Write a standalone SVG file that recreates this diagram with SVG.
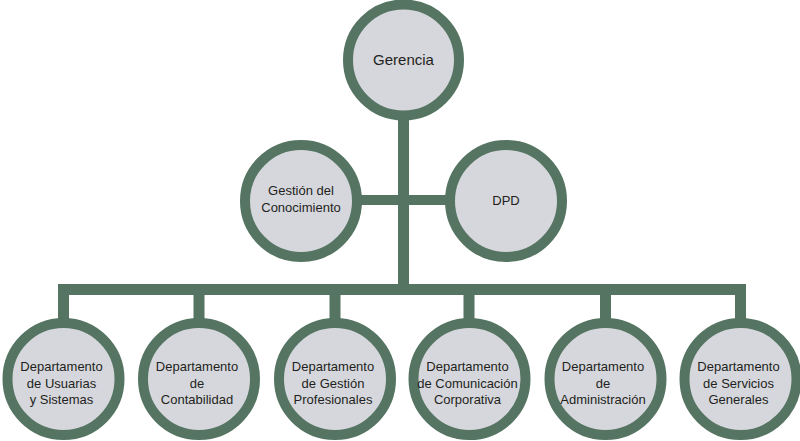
<svg xmlns="http://www.w3.org/2000/svg" width="800" height="441" viewBox="0 0 800 441">
<style>
.n{fill:#d6d7dc;stroke:#557462;stroke-width:10}
.c{fill:#557462}
text{font-family:"Liberation Sans",Arial,sans-serif;font-size:13px;fill:#231f20;text-anchor:middle}
.big{font-size:15px}
</style>
<rect width="800" height="441" fill="#ffffff"/>
<g id="connectors">
<rect class="c" x="398" y="110" width="11" height="185"/>
<rect class="c" x="355" y="195" width="95" height="10"/>
<rect class="c" x="58" y="284" width="688" height="11"/>
<rect class="c" x="58" y="284" width="11" height="40"/>
<rect class="c" x="193.5" y="284" width="11" height="40"/>
<rect class="c" x="329.5" y="284" width="11" height="40"/>
<rect class="c" x="463.5" y="284" width="11" height="40"/>
<rect class="c" x="600" y="284" width="11" height="40"/>
<rect class="c" x="735" y="284" width="11" height="40"/>
</g>
<g id="gerencia"><circle class="n" cx="403.5" cy="60" r="55.5"/><text class="big" x="403.5" y="65">Gerencia</text></g>
<g id="gestion"><circle class="n" cx="301" cy="201" r="56"/><text x="301" y="195">Gestión del</text><text x="301" y="212">Conocimiento</text></g>
<g id="dpd"><circle class="n" cx="506" cy="201" r="56"/><text x="506" y="205">DPD</text></g>
<g id="usuarias"><circle class="n" cx="63.5" cy="379" r="56"/><text x="61.5" y="371">Departamento</text><text x="61.5" y="387.5">de Usuarias</text><text x="61.5" y="404">y Sistemas</text></g>
<g id="contabilidad"><circle class="n" cx="199" cy="379" r="56"/><text x="197" y="371">Departamento</text><text x="197" y="387.5">de</text><text x="197" y="404">Contabilidad</text></g>
<g id="gestion-prof"><circle class="n" cx="335" cy="379" r="56"/><text x="333" y="371">Departamento</text><text x="333" y="387.5">de Gestión</text><text x="333" y="404">Profesionales</text></g>
<g id="comunicacion"><circle class="n" cx="469.5" cy="379" r="56"/><text x="467.5" y="371">Departamento</text><text x="467.5" y="387.5">de Comunicación</text><text x="467.5" y="404">Corporativa</text></g>
<g id="administracion"><circle class="n" cx="605.5" cy="379" r="56"/><text x="603" y="371">Departamento</text><text x="603" y="387.5">de</text><text x="603" y="404">Administración</text></g>
<g id="servicios"><circle class="n" cx="740.5" cy="379" r="56"/><text x="738.5" y="371">Departamento</text><text x="738.5" y="387.5">de Servicios</text><text x="738.5" y="404">Generales</text></g>
</svg>
